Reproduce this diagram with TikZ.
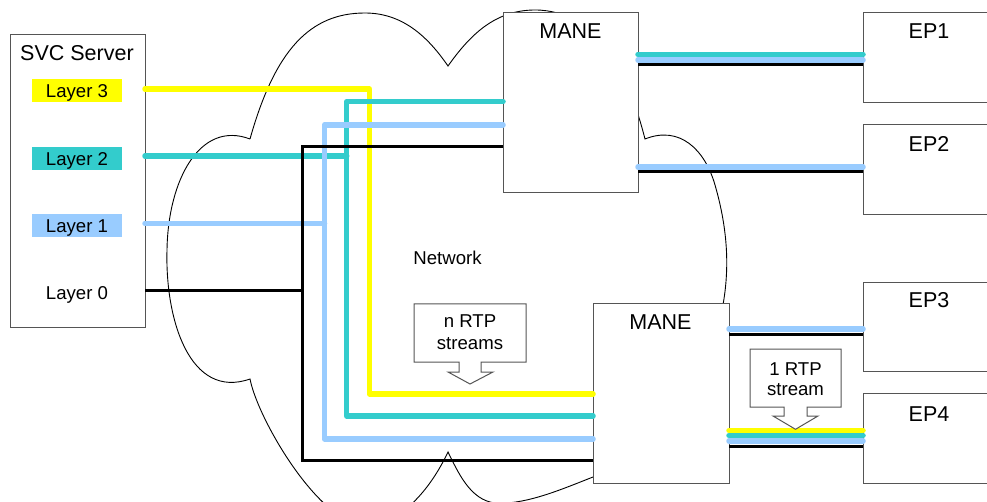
\documentclass[tikz,border=0pt]{standalone}
\usepackage{fontspec}
\setmainfont{Liberation Sans}
\definecolor{cyel}{RGB}{255,255,0}
\definecolor{cteal}{RGB}{51,204,204}
\definecolor{cblue}{RGB}{153,204,255}
\definecolor{cedge}{RGB}{85,85,85}
\tikzset{
  box/.style={draw=cedge, line width=1pt, fill=white, inner sep=0pt, anchor=north west},
  big/.style={font=\fontsize{21.5}{25}\selectfont, inner sep=0pt, anchor=base},
  small/.style={font=\fontsize{18.6}{22}\selectfont, inner sep=0pt},
  lay/.style={small, minimum width=90pt, minimum height=23pt, text height=13.3pt, text depth=0pt},
  yl/.style={draw=cyel, line width=5.5pt, line cap=round, line join=round},
  tl/.style={draw=cteal, line width=5.5pt, line cap=round, line join=round},
  bl/.style={draw=cblue, line width=5.5pt, line cap=round, line join=round},
  kl/.style={draw=black, line width=3pt, line join=miter},
  callout/.style={draw=cedge, line width=1pt, fill=white, line join=miter},
  cloud/.style={draw=black, line width=0.9pt}
}
\begin{document}
\begin{tikzpicture}[x=1pt,y=-1pt]
\useasboundingbox (0,0) rectangle (987,502);

% network cloud
\draw[cloud] (250,139)
  .. controls (275,50) and (310,13) .. (365,13)
  .. controls (405,13) and (430,40) .. (448,66)
  .. controls (470,35) and (495,10) .. (535,10)
  .. controls (600,10) and (630,80) .. (645,139)
  .. controls (680,125) and (705,150) .. (715,185)
  .. controls (728,230) and (730,270) .. (722,310)
  .. controls (710,400) and (650,455) .. (593,477)
  .. controls (560,490) and (525,505) .. (495,503)
  .. controls (470,500) and (458,472) .. (448,452)
  .. controls (430,490) and (400,525) .. (365,525)
  .. controls (320,525) and (258,420) .. (250,379)
  .. controls (190,400) and (165,320) .. (167,250)
  .. controls (168,180) and (200,120) .. (250,139);

% boxes
\node[box, minimum width=135pt, minimum height=293pt] (srv) at (10,34) {};
\node[box, minimum width=135pt, minimum height=180pt] (maneU) at (503,12) {};
\node[box, minimum width=136pt, minimum height=180pt] (maneL) at (593,303) {};
\node[box, minimum width=160pt, minimum height=90pt] (ep1) at (863,12) {};
\node[box, minimum width=160pt, minimum height=90pt] (ep2) at (863,124) {};
\node[box, minimum width=160pt, minimum height=89pt] (ep3) at (863,282) {};
\node[box, minimum width=160pt, minimum height=90pt] (ep4) at (863,393) {};

% titles
\node[big] (srvT) at (77,61) {SVC Server};
\node[big] (maneUT) at (570.5,39) {MANE};
\node[big] (maneLT) at (660.5,330) {MANE};
\node[big] (ep1T) at (929,39) {EP1};
\node[big] (ep2T) at (929,152) {EP2};
\node[big] (ep3T) at (929,308) {EP3};
\node[big] (ep4T) at (929,421) {EP4};

% layer labels
\node[lay, fill=cyel] (L3) at (77,90.5) {Layer 3};
\node[lay, fill=cteal] (L2) at (77,158.5) {Layer 2};
\node[lay, fill=cblue] (L1) at (77,225.5) {Layer 1};
\node[small, anchor=base] (L0) at (77,300) {Layer 0};
\node[small, anchor=base] (net) at (447.5,265) {Network};

% connector end points
\coordinate (s3) at (145,89);
\coordinate (s2) at (145,156);
\coordinate (s1) at (145,223.3);
\coordinate (s0) at (145,290.8);
\coordinate (j3) at (369.5,394);
\coordinate (m3) at (593,394);
\coordinate (tu) at (503,101.7);
\coordinate (tj) at (346.7,416);
\coordinate (tlo) at (593,416);
\coordinate (bu) at (503,124.8);
\coordinate (bj) at (324.5,439);
\coordinate (blo) at (593,439);
\coordinate (ku) at (503,146.7);
\coordinate (kj) at (302,460.8);
\coordinate (klo) at (593,460.8);

% server side streams
\draw[yl] (s3) -| (j3) -- (m3);
\draw[tl] (tu) -| (tj) -- (tlo);
\draw[tl] (s2) -- (s2 -| tj);
\draw[bl] (bu) -| (bj) -- (blo);
\draw[bl] (s1) -- (s1 -| bj);
\draw[kl] (ku) -| (kj) -- (klo);
\draw[kl] (s0) -- (s0 -| kj);

% MANE to end points
\coordinate (u1t) at (638,54.3);
\coordinate (u1b) at (638,60);
\coordinate (u1k) at (638,65);
\coordinate (u2b) at (638,167);
\coordinate (u2k) at (638,172);
\coordinate (l3b) at (729,329);
\coordinate (l3k) at (729,334);
\coordinate (l4y) at (729,430.5);
\coordinate (l4t) at (729,435.5);
\coordinate (l4b) at (729,441);
\coordinate (l4k) at (729,446.5);
\draw[tl] (u1t) -- (u1t -| ep1.west);
\draw[bl] (u1b) -- (u1b -| ep1.west);
\draw[kl] (u1k) -- (u1k -| ep1.west);
\draw[bl] (u2b) -- (u2b -| ep2.west);
\draw[kl] (u2k) -- (u2k -| ep2.west);
\draw[bl] (l3b) -- (l3b -| ep3.west);
\draw[kl] (l3k) -- (l3k -| ep3.west);
\draw[yl] (l4y) -- (l4y -| ep4.west);
\draw[tl] (l4t) -- (l4t -| ep4.west);
\draw[bl] (l4b) -- (l4b -| ep4.west);
\draw[kl] (l4k) -- (l4k -| ep4.west);

% callouts
\draw[callout] (414,304) -- (526,304) -- (526,362) -- (481,362) -- (481,372)
  -- (493,372) -- (470,384) -- (448,372) -- (459,372) -- (459,362) -- (414,362) -- cycle;
\node[small, anchor=north, align=center, font=\fontsize{18.6}{22}\selectfont] (cn) at (470,314.2) {n RTP\\streams};
\draw[callout] (750,349) -- (841,349) -- (841,407) -- (807,407) -- (807,416)
  -- (818,416) -- (795.5,429.3) -- (773,416) -- (784,416) -- (784,407) -- (750,407) -- cycle;
\node[small, anchor=north, align=center, font=\fontsize{18.6}{20}\selectfont] (c1) at (795.5,362.7) {1 RTP\\stream};
\end{tikzpicture}
\end{document}
